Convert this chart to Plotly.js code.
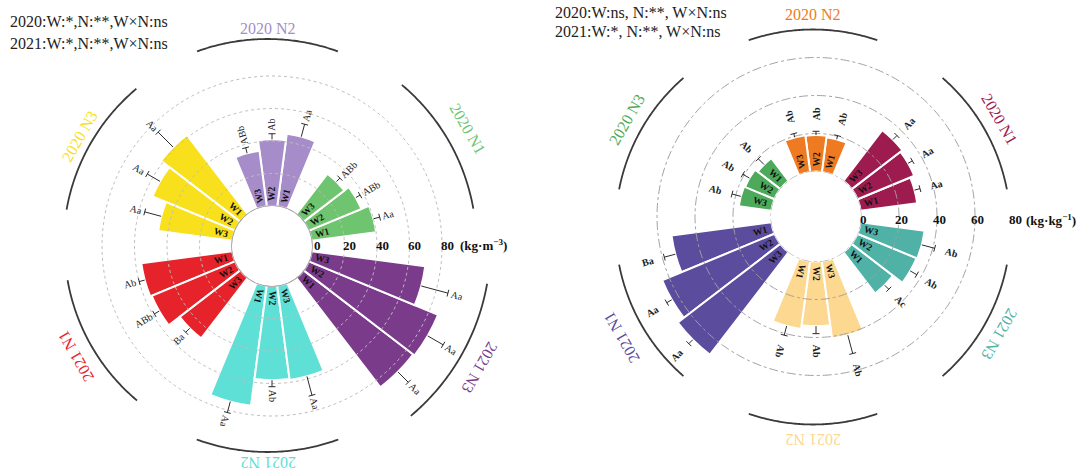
<!DOCTYPE html>
<html>
<head>
<meta charset="utf-8">
<script src="https://cdn.plot.ly/plotly-3.0.1.min.js"></script>
<style>
  html, body { margin: 0; padding: 0; background: #ffffff; }
  #chart { width: 1088px; height: 475px; }
</style>
</head>
<body>
<div id="chart"></div>
<script>
const W = 1088, H = 475;
const SERIF = 'Liberation Serif, Times New Roman, serif';

// ---- shared categories ----
const groupNames = ['2020 N1', '2020 N2', '2020 N3', '2021 N1', '2021 N2', '2021 N3'];
const waterLevels = ['W1', 'W2', 'W3'];
const radialTicks = [0, 20, 40, 60, 80];

// ---- left panel: bulk density (kg·m-3), rows = groups, columns = W1..W3 ----
const densityMean = [
  [40, 35, 31.5],
  [45, 41, 34.5],
  [61.5, 55, 46],
  [56.5, 55.5, 47],
  [74.5, 58, 58.5],
  [85, 86, 70.5]
];
const densityErr = [
  [4, 3, 3],
  [8, 3.5, 3.5],
  [13, 9, 10.5],
  [3.5, 3.5, 3.5],
  [7, 4, 12],
  [9, 11, 17]
];
const densityLetters = [
  ['Aa', 'ABb', 'ABb'],
  ['Aa', 'Ab', 'ABb'],
  ['Aa', 'Aa', 'Aa'],
  ['Ab', 'ABb', 'Ba'],
  ['Aa', 'Ab', 'Aa'],
  ['Aa', 'Aa', 'Aa']
];
const densityStats = ['2020:W:*,N:**,W×N:ns', '2021:W:*,N:**,W×N:ns'];

// ---- right panel: ratio (kg·kg-1) ----
const ratioMean = [
  [30, 32.3, 33.6],
  [18.4, 19.2, 19.5],
  [15, 16.8, 17.3],
  [53, 64, 68],
  [36, 34, 41],
  [27.5, 33.6, 34]
];
const ratioErr = [
  [3, 2.6, 3],
  [2, 2, 2],
  [4.3, 4, 4.8],
  [6, 3, 3],
  [5, 4, 10],
  [3, 4, 7]
];
const ratioLetters = [
  ['Aa', 'Aa', 'Aa'],
  ['Ab', 'Ab', 'Ab'],
  ['Ab', 'Ab', 'Ab'],
  ['Ba', 'Aa', 'Aa'],
  ['Ab', 'Ab', 'Ab'],
  ['Ac', 'Ab', 'Ab']
];
const ratioStats = ['2020:W:ns, N:**, W×N:ns', '2021:W:*, N:**, W×N:ns'];

// ---- panel styling and geometry (pixels) ----
const panels = [
  {
    id: 'polar', arcId: 'polar3', mean: densityMean, err: densityErr, letters: densityLetters, stats: densityStats,
    colors: ['#6fc46f', '#a68dc9', '#f9e01c', '#e6222a', '#5fe0d6', '#7b3b8b'],
    cx: 272, cy: 246, hole: 40, scale: 1.625, rmax: 104,
    arc: { cx: 267.5, cy: 245, radii: [209, 206, 204, 203, 207, 223], half: 20 },
    labelRadii: [232, 217, 217, 222, 218, 245],
    grid: { dash: 'dot', color: '#bdbdbd', width: 1 }, inner: { dash: 'solid', color: '#9a9a9a', width: 1.6 },
    gridTicks: [20, 40, 60, 80],
    unit: '(kg·m<sup>−3</sup>)', tickShift: 5, tickDy: -1, unitGap: 11,
    letterMode: 'tight', letterBold: false,
    statsX: 8, statsY: [22, 43]
  },
  {
    id: 'polar2', arcId: 'polar4', mean: ratioMean, err: ratioErr, letters: ratioLetters, stats: ratioStats,
    colors: ['#9e1b4f', '#ee7b21', '#4daa5b', '#5b4c9e', '#fcd891', '#50b1a6'],
    cx: 816, cy: 216.5, hole: 45, scale: 1.9, rmax: 82,
    arc: { cx: 813, cy: 227, radii: [197.5, 197.5, 197.5, 197.5, 197.5, 197.5], half: 19 },
    labelRadii: [216, 213, 215, 221, 213, 215],
    grid: { dash: 'dashdot', color: '#a0a0a0', width: 1 }, inner: { dash: 'dashdot', color: '#a0a0a0', width: 1 },
    gridTicks: [20, 40, 60],
    unit: '(kg·kg<sup>−1</sup>)', tickShift: 2, tickDy: 3, unitGap: 9,
    letterMode: 'loose', letterBold: true,
    statsX: 553, statsY: [12, 32]
  }
];

const SLOT = 15;            // angular width of one bar slot (deg)

function groupCenter(i) { return 30 + 60 * i; }
function barTheta(i, j) { return groupCenter(i) + (j - 1) * SLOT; }
function norm(a) { while (a > 180) a -= 360; while (a <= -180) a += 360; return a; }
function radialTextAngle(theta) {
  const t = ((theta % 360) + 360) % 360;
  return norm(t > 120 && t < 240 ? 180 - t : -t);
}
function tangentTextAngle(theta) { return norm(90 - theta); }
function pxRadius(p, r) { return p.hole + r * p.scale; }
function toPaperAt(cx, cy, theta, rpx) {
  const a = theta * Math.PI / 180;
  return { x: (cx + rpx * Math.cos(a)) / W, y: 1 - (cy - rpx * Math.sin(a)) / H };
}
function toPaper(p, theta, rpx) { return toPaperAt(p.cx, p.cy, theta, rpx); }
function textWidth(s, size) {
  let w = 0;
  for (const c of s) w += (c === c.toUpperCase() ? 0.72 : 0.48);
  return w * size;
}
function circleTheta(from, to, step) {
  const out = [];
  for (let t = from; t <= to + 1e-9; t += step) out.push(t);
  return out;
}
function hiddenAxes() {
  return {
    radialaxis: { showgrid: false, showline: false, showticklabels: false, ticks: '' },
    angularaxis: { showgrid: false, showline: false, showticklabels: false, ticks: '', rotation: 0, direction: 'counterclockwise' }
  };
}
function domainFor(cx, cy, R) {
  return { x: [(cx - R) / W, (cx + R) / W], y: [1 - (cy + R) / H, 1 - (cy - R) / H] };
}

const traces = [];
const annotations = [];
const layout = {
  width: W, height: H,
  margin: { l: 0, r: 0, t: 0, b: 0 },
  paper_bgcolor: '#ffffff',
  showlegend: false,
  hovermode: false,
  font: { family: SERIF, color: '#222' }
};

panels.forEach(p => {
  const R = p.hole + p.rmax * p.scale;
  const ax = hiddenAxes();
  ax.radialaxis.range = [0, p.rmax];
  layout[p.id] = Object.assign({ domain: domainFor(p.cx, p.cy, R), hole: p.hole / R, bgcolor: 'rgba(0,0,0,0)' }, ax);

  // the outer group arcs live on their own circle
  const arcR = Math.max.apply(null, p.arc.radii) + 4;
  const ax2 = hiddenAxes();
  ax2.radialaxis.range = [0, arcR];
  layout[p.arcId] = Object.assign({ domain: domainFor(p.arc.cx, p.arc.cy, arcR), hole: 0, bgcolor: 'rgba(0,0,0,0)' }, ax2);

  // grid circles
  const full = circleTheta(0, 360, 1);
  traces.push({
    type: 'scatterpolar', subplot: p.id, mode: 'lines',
    r: full.map(() => 0), theta: full,
    line: { color: p.inner.color, width: p.inner.width, dash: p.inner.dash }
  });
  p.gridTicks.forEach(t => {
    traces.push({
      type: 'scatterpolar', subplot: p.id, mode: 'lines',
      r: full.map(() => t), theta: full,
      line: { color: p.grid.color, width: p.grid.width, dash: p.grid.dash }
    });
  });

  // bars
  const r = [], th = [], col = [];
  p.mean.forEach((row, i) => row.forEach((v, j) => {
    r.push(v); th.push(barTheta(i, j)); col.push(p.colors[i]);
  }));
  traces.push({
    type: 'barpolar', subplot: p.id, r: r, theta: th, width: SLOT,
    marker: { color: col, line: { color: '#ffffff', width: 2 } }
  });

  // error bars with caps
  const er = [], et = [];
  p.mean.forEach((row, i) => row.forEach((v, j) => {
    const t = barTheta(i, j), top = v + p.err[i][j];
    const capHalf = 3.5 / pxRadius(p, top) * 180 / Math.PI;
    er.push(v, top, null, top, top, null);
    et.push(t, t, null, t - capHalf, t + capHalf, null);
  }));
  traces.push({
    type: 'scatterpolar', subplot: p.id, mode: 'lines', r: er, theta: et,
    line: { color: '#2b2b2b', width: 1 }, connectgaps: false
  });

  // group arcs and names
  groupNames.forEach((g, i) => {
    const c = groupCenter(i);
    const arc = circleTheta(c - p.arc.half, c + p.arc.half, 0.5);
    traces.push({
      type: 'scatterpolar', subplot: p.arcId, mode: 'lines',
      r: arc.map(() => p.arc.radii[i]), theta: arc,
      line: { color: '#3a3a3a', width: 1.8 }
    });
    const pos = toPaperAt(p.arc.cx, p.arc.cy, c, p.labelRadii[i]);
    annotations.push({
      xref: 'paper', yref: 'paper', x: pos.x, y: pos.y, xanchor: 'center', yanchor: 'middle',
      text: g, showarrow: false, textangle: tangentTextAngle(c),
      font: { family: SERIF, size: 16, color: p.colors[i] }
    });
  });

  // labels inside bars and significance letters
  p.mean.forEach((row, i) => row.forEach((v, j) => {
    const t = barTheta(i, j);
    const wpos = toPaper(p, t, p.hole + 12);
    annotations.push({
      xref: 'paper', yref: 'paper', x: wpos.x, y: wpos.y, xanchor: 'center', yanchor: 'middle',
      text: '<b>' + waterLevels[j] + '</b>', showarrow: false, textangle: radialTextAngle(t),
      font: { family: SERIF, size: 9.5, color: '#111' }
    });
    const lab = p.letters[i][j];
    const capPx = pxRadius(p, v + p.err[i][j]);
    const size = 10;
    const lr = p.letterMode === 'tight' ? capPx + 3 + textWidth(lab, size) / 2 : capPx + 17;
    const lpos = toPaper(p, t, lr);
    annotations.push({
      xref: 'paper', yref: 'paper', x: lpos.x, y: lpos.y, xanchor: 'center', yanchor: 'middle',
      text: p.letterBold ? '<b>' + lab + '</b>' : lab, showarrow: false, textangle: radialTextAngle(t),
      font: { family: SERIF, size: size, color: '#222' }
    });
  }));

  // radial scale labels along the horizontal axis
  radialTicks.forEach(t => {
    const x = p.cx + pxRadius(p, t) + p.tickShift;
    annotations.push({
      xref: 'paper', yref: 'paper', x: x / W, y: 1 - (p.cy + p.tickDy) / H,
      xanchor: 'center', yanchor: 'middle', showarrow: false,
      text: '<b>' + t + '</b>', font: { family: SERIF, size: 13, color: '#111' }
    });
  });
  const lastX = p.cx + pxRadius(p, radialTicks[radialTicks.length - 1]) + p.tickShift + p.unitGap;
  annotations.push({
    xref: 'paper', yref: 'paper', x: lastX / W, y: 1 - (p.cy + p.tickDy) / H,
    xanchor: 'left', yanchor: 'middle', showarrow: false,
    text: '<b>' + p.unit + '</b>', font: { family: SERIF, size: 13, color: '#111' }
  });

  // factor significance summary
  p.stats.forEach((s, k) => {
    annotations.push({
      xref: 'paper', yref: 'paper', x: p.statsX / W, y: 1 - p.statsY[k] / H,
      xanchor: 'left', yanchor: 'middle', showarrow: false,
      text: s, font: { family: SERIF, size: 16, color: '#222' }
    });
  });
});

layout.annotations = annotations;

Plotly.newPlot('chart', traces, layout, { staticPlot: true, displayModeBar: false });
</script>
</body>
</html>
